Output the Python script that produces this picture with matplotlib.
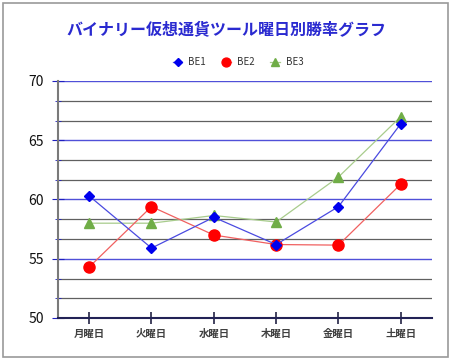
#Weekday win-rate chart (3 tools)

import numpy as np
import matplotlib
matplotlib.use('Agg')
import matplotlib.pyplot as plt
from matplotlib.patches import Rectangle

plt.rcParams['font.family'] = ['Noto Sans CJK JP', 'DejaVu Sans']

#data
days = ['月曜日', '火曜日', '水曜日', '木曜日', '金曜日', '土曜日']
be1 = [60.3, 55.9, 58.5, 56.2, 59.4, 66.4]
be2 = [54.3, 59.4, 57.0, 56.2, 56.15, 61.3]
be3 = [58.0, 58.0, 58.65, 58.1, 61.9, 67.0]
title = 'バイナリー仮想通貨ツール曜日別勝率グラフ'

fig = plt.figure(figsize=(4.52, 3.6), dpi=100)
ax = fig.add_axes([58/452, 1-318/360, 374/452, 237/360])

x = np.arange(len(days))
ax.plot(x, be1, color='#4a4ae0', lw=0.9, marker='D', ms=5.5,
        mfc='#0000ee', mec='#0000ee', label='BE1', zorder=5)
ax.plot(x, be2, color='#f06060', lw=0.9, marker='o', ms=8,
        mfc='#ff0000', mec='#ff0000', label='BE2', zorder=4)
ax.plot(x, be3, color='#a8cc8c', lw=0.9, marker='^', ms=7.5,
        mfc='#70ad47', mec='#70ad47', label='BE3', zorder=3)

#axes
ax.set_xlim(-0.5, 5.5)
ax.set_ylim(50, 70)
ax.set_xticks(x)
ax.set_xticklabels(days, fontsize=7.5, color='#404040', fontweight='bold')
ax.set_yticks(np.arange(50, 71, 5))
ax.set_yticks(np.arange(50, 70.01, 5/3), minor=True)
ax.tick_params(axis='y', which='major', direction='inout', length=8,
               color='#2020c0', labelsize=10, labelcolor='#111111', pad=6)
ax.tick_params(axis='y', which='minor', direction='inout', length=5,
               color='#2020c0')
ax.tick_params(axis='x', direction='inout', length=8, color='#222244',
               width=1.2, pad=4)

ax.grid(which='major', axis='y', color='#5050d8', lw=1.0)
ax.grid(which='minor', axis='y', color='#606060', lw=0.9)
ax.set_axisbelow(True)

ax.spines['top'].set_color('none')
ax.spines['right'].set_color('none')
ax.spines['left'].set_color('#7a7a7a')
ax.spines['left'].set_linewidth(1.5)
ax.spines['bottom'].set_color('#222255')
ax.spines['bottom'].set_linewidth(1.5)

#title + legend
fig.text(0.5, 1-30/360, title, ha='center', va='center', fontsize=11.5,
         fontweight='bold', color='#2a2ad0')
fig.legend(loc='center', bbox_to_anchor=(0.527, 1-62/360), ncol=3,
           frameon=False, fontsize=7, handlelength=1.0, columnspacing=1.6,
           handletextpad=0.6, labelcolor='#333333', markerscale=0.8)

#outer border
fig.patches.append(Rectangle((3/452, 3/360), 445/452, 354/360,
                             transform=fig.transFigure, fill=False,
                             ec='#9a9a9a', lw=1.2))

plt.savefig('out.png', dpi=100)
